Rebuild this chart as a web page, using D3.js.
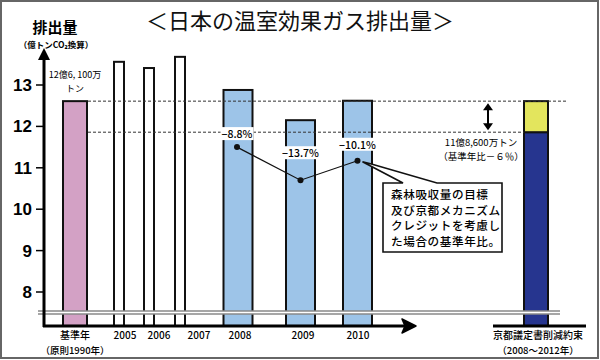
<!DOCTYPE html>
<html><head><meta charset="utf-8">
<script src="https://cdn.jsdelivr.net/npm/d3@7"></script>
<style>
html,body{margin:0;padding:0;background:#fff;}
svg{display:block;font-family:"Noto Sans CJK JP","Noto Sans",sans-serif;}
</style></head>
<body><svg id="c" width="600" height="360"></svg>
<script>
// ---- data ----
const categories = ["基準年", "2005", "2006", "2007", "2008", "2009", "2010"];
const categorySub = ["（原則1990年）", "", "", "", "", "", ""];
const emissions = [12.61, 13.56, 13.41, 13.68, 12.88, 12.15, 12.62];
const reductionYears = ["2008", "2009", "2010"];
const reductionLabels = ["−8.8%", "−13.7%", "−10.1%"];
const reductionValues = [11.50, 10.70, 11.17];
const kyotoCategory = "京都議定書削減約束";
const kyotoSub = "（2008～2012年）";
const kyotoTarget = 11.86;
const baseYearValue = 12.61;
const yTicks = [8, 9, 10, 11, 12, 13];
const axisFloor = 7.18;

const svg = d3.select("#c");

// scales
const y = d3.scaleLinear().domain([8, 13]).range([292, 85]);
const xBar = d3.scaleOrdinal().domain(categories.concat([kyotoCategory]))
  .range([75, 119, 149, 180, 238, 300.5, 357.5, 536]);
const xLab = d3.scaleOrdinal().domain(categories.concat([kyotoCategory]))
  .range([75, 125, 159, 199, 240, 303, 358, 538]);

const kind = i => i === 0 ? "base" : (i <= 3 ? "hist" : "kp");
const widthOf = {base: 24, hist: 10, kp: 29};
const fillOf = {base: "#d3a1c5", hist: "#ffffff", kp: "#9dc4e8"};

// frame
svg.append("rect").attr("x", 1).attr("y", 1).attr("width", 597).attr("height", 357)
  .attr("fill", "none").attr("stroke", "#666").attr("stroke-width", 2);

// title
svg.append("text").attr("x", 300).attr("y", 29).attr("text-anchor", "middle")
  .attr("font-size", 22).attr("fill", "#111").text("＜日本の温室効果ガス排出量＞");

// y axis title
svg.append("text").attr("x", 55).attr("y", 33).attr("text-anchor", "middle")
  .attr("font-size", 15).attr("font-weight", 700).text("排出量");
svg.append("text").attr("x", 56).attr("y", 48).attr("text-anchor", "middle")
  .attr("font-size", 8.5).attr("font-weight", 700).text("（億トンCO₂換算）");

const base = y(axisFloor);

// bars
categories.forEach((c, i) => {
  const k = kind(i), w = widthOf[k];
  svg.append("rect").attr("x", xBar(c) - w / 2).attr("y", y(emissions[i]))
    .attr("width", w).attr("height", base - y(emissions[i]))
    .attr("fill", fillOf[k]).attr("stroke", "#111").attr("stroke-width", 2);
});

// kyoto bar
const kw = 24, kx = xBar(kyotoCategory);
svg.append("rect").attr("x", kx - kw / 2).attr("y", y(kyotoTarget)).attr("width", kw)
  .attr("height", base - y(kyotoTarget)).attr("fill", "#26358f").attr("stroke", "#111").attr("stroke-width", 2);
svg.append("rect").attr("x", kx - kw / 2).attr("y", y(baseYearValue)).attr("width", kw)
  .attr("height", y(kyotoTarget) - y(baseYearValue)).attr("fill", "#e3e55d").attr("stroke", "#111").attr("stroke-width", 2);

// dashed reference lines
svg.append("line").attr("x1", 88).attr("x2", 567).attr("y1", y(baseYearValue)).attr("y2", y(baseYearValue))
  .attr("stroke", "#333").attr("stroke-width", 1).attr("stroke-dasharray", "3,2");
svg.append("line").attr("x1", 88).attr("x2", kx - kw / 2).attr("y1", y(kyotoTarget)).attr("y2", y(kyotoTarget))
  .attr("stroke", "#333").attr("stroke-width", 1).attr("stroke-dasharray", "3,2");

// axis break band
svg.append("rect").attr("x", 38).attr("y", 311).attr("width", 522).attr("height", 3).attr("fill", "#fff");
[311, 314].forEach(v => svg.append("line").attr("x1", 38).attr("x2", 560).attr("y1", v).attr("y2", v)
  .attr("stroke", "#888").attr("stroke-width", 1.3));

// y axis line with arrow
svg.append("line").attr("x1", 44).attr("x2", 44).attr("y1", base + 1).attr("y2", 56)
  .attr("stroke", "#000").attr("stroke-width", 3);
svg.append("path").attr("d", "M44,48 L38,60 L50,60 Z").attr("fill", "#000");

// y ticks
yTicks.forEach(t => {
  svg.append("line").attr("x1", 36).attr("x2", 44).attr("y1", y(t)).attr("y2", y(t))
    .attr("stroke", "#000").attr("stroke-width", 1.5);
  svg.append("text").attr("x", 32).attr("y", y(t) + 6).attr("text-anchor", "end")
    .attr("font-family", "'Liberation Sans',Arial,sans-serif").attr("font-weight", 700)
    .attr("font-size", 17).text(t);
});

// x baseline with arrow
svg.append("line").attr("x1", 43).attr("x2", 410).attr("y1", base).attr("y2", base)
  .attr("stroke", "#000").attr("stroke-width", 3);
svg.append("path").attr("d", "M402,319 L416,326 L402,333 L405,326 Z").attr("fill", "#000")
  .attr("stroke", "#000").attr("stroke-width", 1.5).attr("stroke-linejoin", "round");
svg.append("line").attr("x1", 493).attr("x2", 586).attr("y1", base).attr("y2", base)
  .attr("stroke", "#000").attr("stroke-width", 3);

// x labels
categories.forEach((c, i) => {
  svg.append("text").attr("x", xLab(c)).attr("y", 339).attr("text-anchor", "middle")
    .attr("font-size", 10).attr("font-weight", 500).text(c);
  if (categorySub[i]) svg.append("text").attr("x", xLab(c)).attr("y", 353.5).attr("text-anchor", "middle")
    .attr("font-size", 9.5).attr("font-weight", 500).text(categorySub[i]);
});
svg.append("text").attr("x", xLab(kyotoCategory)).attr("y", 339).attr("text-anchor", "middle")
  .attr("font-size", 10).attr("font-weight", 500).text(kyotoCategory);
svg.append("text").attr("x", xLab(kyotoCategory)).attr("y", 353.5).attr("text-anchor", "middle")
  .attr("font-size", 9.5).attr("font-weight", 500).text(kyotoSub);

// base year annotation
svg.append("text").attr("x", 75).attr("y", 78).attr("text-anchor", "middle").attr("font-size", 9).text("12億6, 100万");
svg.append("text").attr("x", 75).attr("y", 92).attr("text-anchor", "middle").attr("font-size", 9).text("トン");

// kyoto annotation
svg.append("text").attr("x", 481).attr("y", 146).attr("text-anchor", "middle").attr("font-size", 9.5).text("11億8,600万トン");
svg.append("text").attr("x", 481).attr("y", 160).attr("text-anchor", "middle").attr("font-size", 9.5).text("（基準年比－６％）");

// double arrow between reference lines
const ax = 488;
svg.append("line").attr("x1", ax).attr("x2", ax).attr("y1", y(baseYearValue) + 6).attr("y2", y(kyotoTarget) - 6)
  .attr("stroke", "#000").attr("stroke-width", 2);
svg.append("path").attr("d", `M${ax},${y(baseYearValue) + 2} L${ax - 5},${y(baseYearValue) + 9} L${ax + 5},${y(baseYearValue) + 9} Z`).attr("fill", "#000");
svg.append("path").attr("d", `M${ax},${y(kyotoTarget) - 2} L${ax - 5},${y(kyotoTarget) - 9} L${ax + 5},${y(kyotoTarget) - 9} Z`).attr("fill", "#000");

// reduction line
const pts = reductionYears.map((c, i) => [xBar(c) - (i === 0 ? 1 : 0), y(reductionValues[i])]);
svg.append("path").attr("d", d3.line()(pts)).attr("fill", "none").attr("stroke", "#111").attr("stroke-width", 1.2);
pts.forEach(p => svg.append("circle").attr("cx", p[0]).attr("cy", p[1]).attr("r", 3).attr("fill", "#111"));

// callout box
const apex = pts[2];
svg.append("path")
  .attr("d", `M383,183 H403 L${apex[0] + 5},${apex[1] + 1} L${apex[0] + 13},${apex[1] + 3} L437,183 H502 V252 H383 Z`)
  .attr("fill", "#fff").attr("stroke", "#111").attr("stroke-width", 1.6).attr("stroke-linejoin", "miter");
const callout = ["森林吸収量の目標", "及び京都メカニズム", "クレジットを考慮し", "た場合の基準年比。"];
callout.forEach((t, i) => svg.append("text").attr("x", 391).attr("y", 199 + i * 15.6)
  .attr("font-size", 11.6).attr("font-weight", 500).attr("letter-spacing", 0.6).text(t));

// pct labels with white background
const labOffsets = [-9, -23, -12];
reductionYears.forEach((c, i) => {
  const p = pts[i];
  const g = svg.append("g");
  const t = g.append("text").attr("x", p[0]).attr("y", p[1] + labOffsets[i]).attr("text-anchor", "middle")
    .attr("font-size", 10.5).attr("font-weight", 500).text(reductionLabels[i]);
  const bb = t.node().getBBox();
  g.insert("rect", "text").attr("x", bb.x - 1).attr("y", bb.y + 1).attr("width", bb.width + 2).attr("height", bb.height - 2).attr("fill", "#fff");
});
</script></body></html>
